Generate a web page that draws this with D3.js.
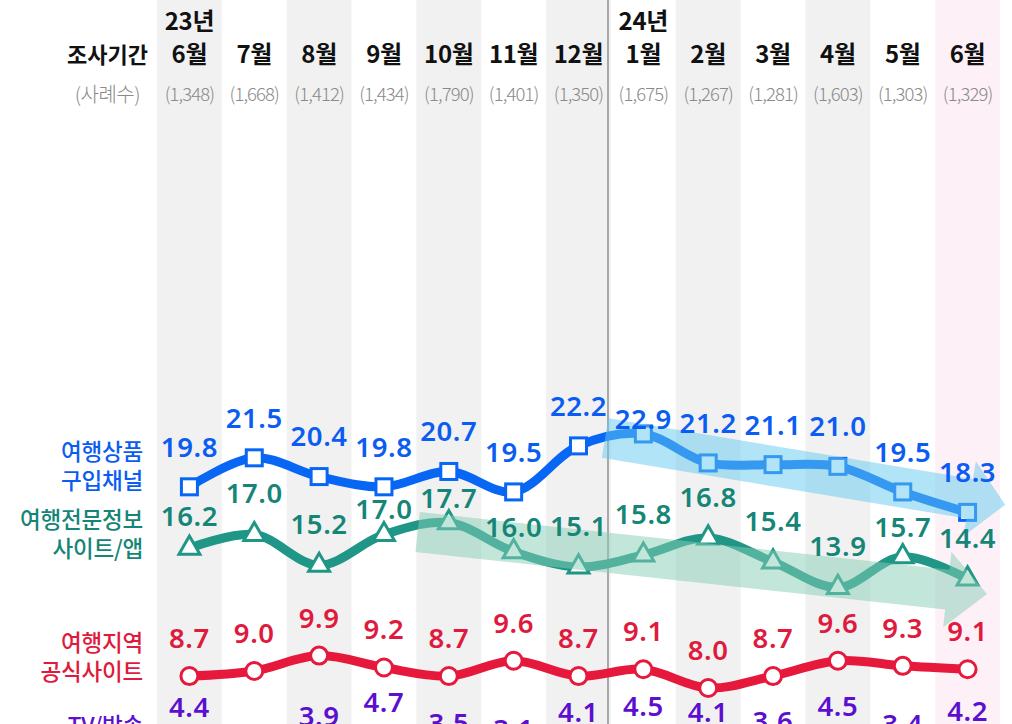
<!DOCTYPE html>
<html><head><meta charset="utf-8">
<script src="https://cdn.jsdelivr.net/npm/d3@7"></script>
<style>
html,body{margin:0;padding:0;background:#fff;overflow:hidden}
svg{display:block}
</style></head>
<body>
<svg id="chart" width="1012" height="724"></svg>
<script>
// ---- data ----
const monthLabels = ["6월","7월","8월","9월","10월","11월","12월","1월","2월","3월","4월","5월","6월"];
const yearLabels  = ["23년","","","","","","","24년","","","","",""];
const sampleSizes = ["(1,348)","(1,668)","(1,412)","(1,434)","(1,790)","(1,401)","(1,350)","(1,675)","(1,267)","(1,281)","(1,603)","(1,303)","(1,329)"];

const buyChannel   = [19.8,21.5,20.4,19.8,20.7,19.5,22.2,22.9,21.2,21.1,21.0,19.5,18.3];
const infoSiteApp  = [16.2,17.0,15.2,17.0,17.7,16.0,15.1,15.8,16.8,15.4,13.9,15.7,14.4];
const officialSite = [8.7,9.0,9.9,9.2,8.7,9.6,8.7,9.1,8.0,8.7,9.6,9.3,9.1];
const tvBroadcast  = [4.4,2.8,3.9,4.7,3.5,3.1,4.1,4.5,4.1,3.6,4.5,3.4,4.2];

const seriesNames = [["여행상품","구입채널"],["여행전문정보","사이트/앱"],["여행지역","공식사이트"],["TV/방송"]];

// ---- layout / style ----
const W = 1012, H = 724;
const svg = d3.select("#chart");
const idx = d3.range(monthLabels.length);
const xBand = d3.scaleBand().domain(idx).range([157, 1000]).padding(0);
const xc = i => xBand(i) + xBand.bandwidth() / 2;
const xI = d3.scaleLinear().domain([0, 12]).range([xc(0), xc(12)]);
const y = d3.scaleLinear().domain([0, 25]).range([824.4, 398.15]);

const series = [
  {vals: buyChannel,   color:"#0866f4", text:"#0a5cf2", marker:"square",   dy:-40, adj:{7:-15}, nameY:[460,489]},
  {vals: infoSiteApp,  color:"#1f9686", text:"#158577", marker:"triangle", dy:-41, adj:{0:-32,3:-25,4:-25,5:-25,11:-30}, nameY:[528,557]},
  {vals: officialSite, color:"#e6193c", text:"#e01a3c", marker:"circle",   dy:-38, adj:{}, nameY:[651,680]},
  {vals: tvBroadcast,  color:"#6212d2", text:"#5c0fcf", marker:"circle",   dy:-42, adj:{}, nameY:[734]}
];

// background bands
svg.append("g").selectAll("rect").data(idx).join("rect")
  .attr("x", i => xBand(i)).attr("y", 0)
  .attr("width", xBand.bandwidth()).attr("height", H)
  .attr("fill", i => i === 12 ? "#fdf1f7" : (i % 2 === 0 ? "#f1f1f1" : "none"));

// year separator
svg.append("line").attr("x1", 608).attr("x2", 608).attr("y1", 0).attr("y2", H)
  .attr("stroke", "#a8a8a8").attr("stroke-width", 2);

// header
const hdr = svg.append("g").attr("font-family", "'Noto Sans CJK KR','Noto Sans',sans-serif");
hdr.append("text").attr("x", 148).attr("y", 63).attr("text-anchor", "end")
  .attr("font-size", 22).attr("font-weight", 700).attr("fill", "#111").text("조사기간");
hdr.append("text").attr("x", 140).attr("y", 102).attr("text-anchor", "end")
  .attr("font-size", 20).attr("font-weight", 300).attr("fill", "#8a8a8a").attr("letter-spacing", -0.5).text("(사례수)");
hdr.selectAll("text.m").data(idx).join("text").attr("class", "m")
  .attr("x", xc).attr("y", 63).attr("text-anchor", "middle")
  .attr("font-size", 24).attr("font-weight", 700).attr("fill", "#111").attr("letter-spacing", -0.3)
  .text(i => monthLabels[i]);
hdr.selectAll("text.yr").data(idx.filter(i => yearLabels[i])).join("text").attr("class", "yr")
  .attr("x", xc).attr("y", 30).attr("text-anchor", "middle")
  .attr("font-size", 24).attr("font-weight", 700).attr("fill", "#111").attr("letter-spacing", -0.3)
  .text(i => yearLabels[i]);
hdr.selectAll("text.n").data(idx).join("text").attr("class", "n")
  .attr("x", xc).attr("y", 101).attr("text-anchor", "middle")
  .attr("font-size", 18.5).attr("font-weight", 300).attr("fill", "#8a8a8a").attr("letter-spacing", -0.9)
  .text(i => sampleSizes[i]);

// series names
const names = svg.append("g").attr("font-family", "'Noto Sans CJK KR','Noto Sans',sans-serif");
series.forEach((s, k) => {
  seriesNames[k].forEach((t, j) => {
    names.append("text").attr("x", 143).attr("y", s.nameY[j]).attr("text-anchor", "end")
      .attr("font-size", 22.5).attr("font-weight", 500).attr("letter-spacing", -0.2)
      .attr("fill", s.text).text(t);
  });
});

// lines
const line = d3.line().x((d, i) => xc(i)).y(d => y(d)).curve(d3.curveCatmullRom.alpha(0.5));
const gl = svg.append("g");
series.forEach(s => {
  gl.append("path").attr("d", line(s.vals)).attr("fill", "none")
    .attr("stroke", s.color).attr("stroke-width", 9).attr("stroke-linejoin", "round");
});

// markers
const gm = svg.append("g");
series.forEach(s => {
  const g = gm.append("g");
  s.vals.forEach((v, i) => {
    const cx = xc(i), cy = y(v);
    if (s.marker === "square") {
      g.append("rect").attr("x", cx - 8).attr("y", cy - 8).attr("width", 16).attr("height", 16)
        .attr("fill", "#fff").attr("stroke", s.color).attr("stroke-width", 3);
    } else if (s.marker === "triangle") {
      g.append("path").attr("d", d3.symbol(d3.symbolTriangle, 190)())
        .attr("transform", `translate(${cx},${cy})`)
        .attr("fill", "#fff").attr("stroke", s.color).attr("stroke-width", 3).attr("stroke-linejoin", "miter");
    } else {
      g.append("circle").attr("cx", cx).attr("cy", cy).attr("r", 8.5)
        .attr("fill", "#fff").attr("stroke", s.color).attr("stroke-width", 3);
    }
  });
});

// trend arrows (decorative), in index / value units
const trendArrows = [
  {from:[6.41, 22.66], to:[12.58, 18.75], half:20, headHalf:38, headLen:36, fill:"#61c9ed"},
  {from:[3.52, 17.15], to:[12.30, 13.52], half:20, headHalf:38, headLen:40, fill:"#86cdb6"}
];
const ga = svg.append("g");
trendArrows.forEach(a => {
  const x0 = xI(a.from[0]), y0 = y(a.from[1]), x1 = xI(a.to[0]), y1 = y(a.to[1]);
  const L = Math.hypot(x1 - x0, y1 - y0), ang = Math.atan2(y1 - y0, x1 - x0) * 180 / Math.PI;
  const pts = [[0,-a.half],[L-a.headLen,-a.half],[L-a.headLen,-a.headHalf],[L,0],[L-a.headLen,a.headHalf],[L-a.headLen,a.half],[0,a.half]];
  ga.append("polygon").attr("points", pts.map(p => p.join(",")).join(" "))
    .attr("transform", `translate(${x0},${y0}) rotate(${ang})`)
    .attr("fill", a.fill).attr("fill-opacity", 0.5);
});

// value labels
const gv = svg.append("g").attr("font-family", "'Noto Sans','Open Sans',sans-serif");
series.forEach(s => {
  s.vals.forEach((v, i) => {
    const off = s.adj[i] !== undefined ? s.adj[i] : s.dy;
    gv.append("text").attr("x", xc(i)).attr("y", y(v) + off).attr("dy", "0.36em")
      .attr("text-anchor", "middle").attr("font-size", 27.5).attr("font-weight", 600)
      .attr("letter-spacing", 0.6).attr("fill", s.text).text(v.toFixed(1));
  });
});
</script>
</body></html>
